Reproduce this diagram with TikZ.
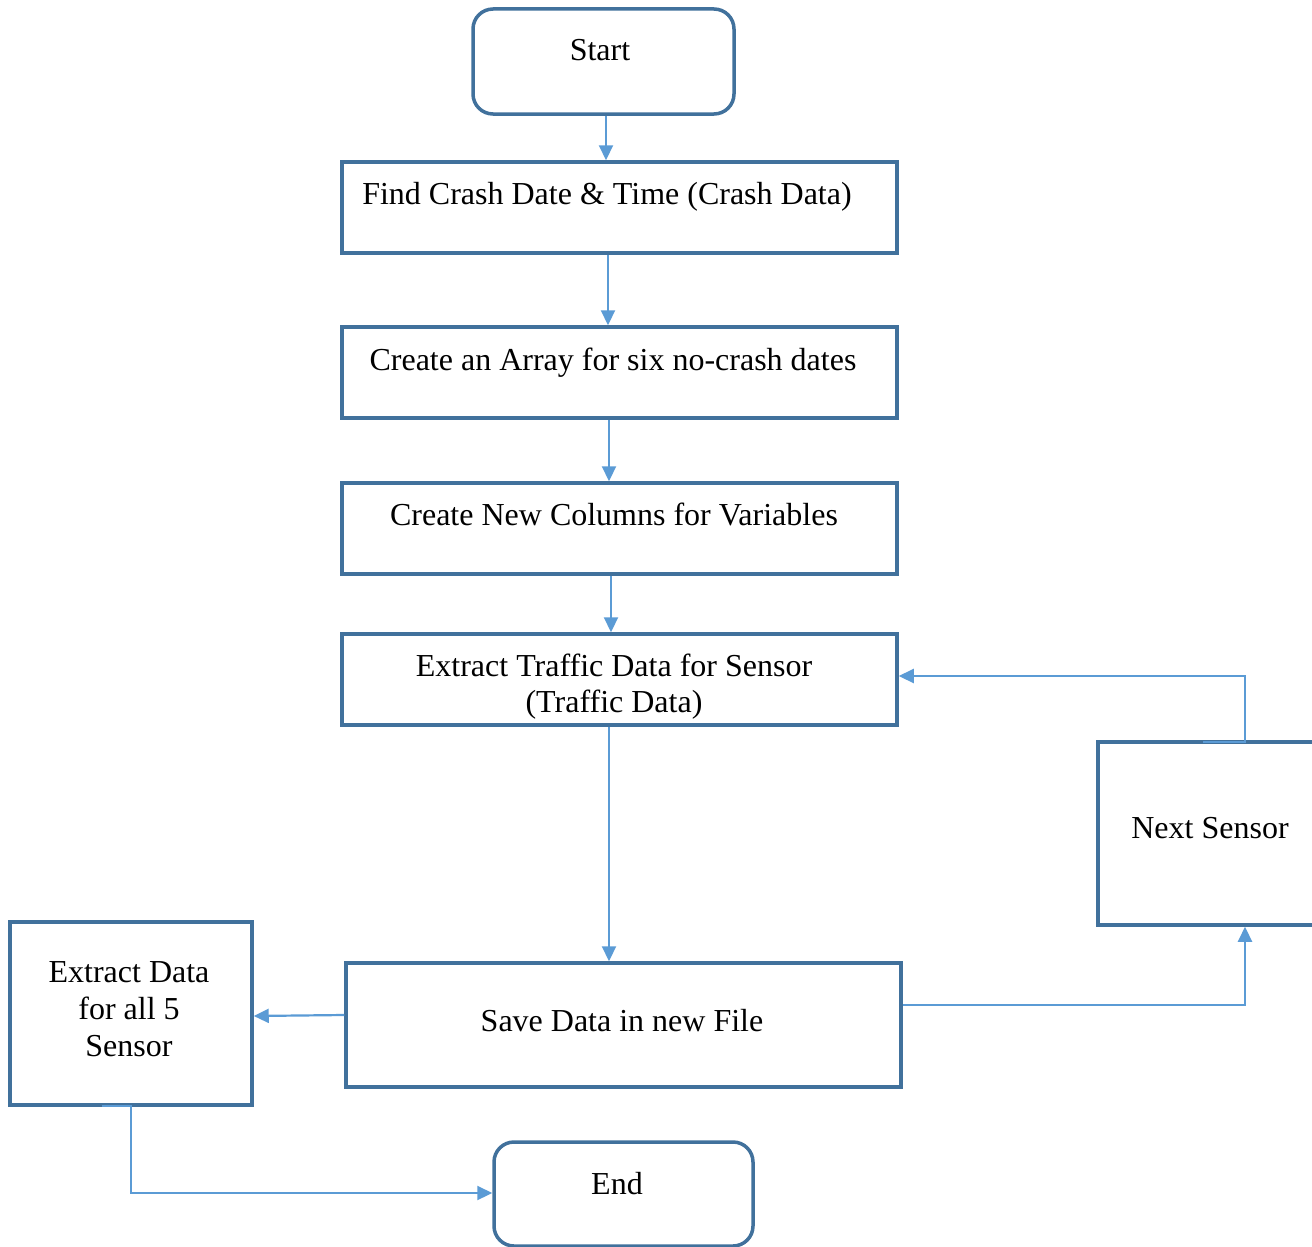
\documentclass[tikz,border=0pt]{standalone}
\usepackage{fontspec}
\setmainfont{Liberation Serif}
\usetikzlibrary{arrows.meta}
\definecolor{boxline}{HTML}{41719C}
\definecolor{flowline}{HTML}{5B9BD5}
\begin{document}
\begin{tikzpicture}[x=1pt,y=-1pt,
  stepbox/.style={draw=boxline,line width=3.5pt,fill=white,inner sep=0pt,minimum width=#1},
  termbox/.style={stepbox=#1,rounded corners=20pt},
  lbl/.style={anchor=base,font=\fontsize{32}{37}\selectfont,inner sep=0pt},
  flow/.style={draw=flowline,line width=2.2pt,-{Triangle[length=15pt,width=14pt]}},
  plain/.style={draw=flowline,line width=2.2pt}]
\useasboundingbox (0,0) rectangle (1312,1247);

% process boxes
\node[termbox=261pt,minimum height=105pt] (start) at (603.5,61.5) {};
\node[stepbox=555pt,minimum height=91pt] (find) at (619.5,207.5) {};
\node[stepbox=555pt,minimum height=91pt] (array) at (619.5,372.5) {};
\node[stepbox=555pt,minimum height=91pt] (cols) at (619.5,528.5) {};
\node[stepbox=555pt,minimum height=91pt] (extract) at (619.5,679.5) {};
\node[stepbox=555pt,minimum height=124pt] (save) at (623.5,1025) {};
\node[stepbox=242pt,minimum height=183pt] (all) at (131,1013.5) {};
\node[stepbox=240pt,minimum height=183pt] (next) at (1218,833.5) {};
\node[termbox=259pt,minimum height=104pt] (end) at (623.5,1194) {};

% labels
\node[lbl] (tstart) at (600,60) {Start};
\node[lbl] (tfind) at (607,204) {Find Crash Date \& Time (Crash Data)};
\node[lbl] (tarray) at (613,370) {Create an Array for six no-crash dates};
\node[lbl] (tcols) at (614,525) {Create New Columns for Variables};
\node[lbl] (textr1) at (614,676) {Extract Traffic Data for Sensor};
\node[lbl] (textr2) at (614,712) {(Traffic Data)};
\node[lbl] (tsave) at (622,1031) {Save Data in new File};
\node[lbl] (tall1) at (129,982) {Extract Data};
\node[lbl] (tall2) at (129,1019) {for all 5};
\node[lbl] (tall3) at (129,1056) {Sensor};
\node[lbl] (tnext) at (1210,838) {Next Sensor};
\node[lbl] (tend) at (617,1194) {End};

% connectors
\draw[flow] (start.south -| 606,0) -- (find.north -| 606,0);
\draw[flow] (find.south -| 608,0) -- (array.north -| 608,0);
\draw[flow] (array.south -| 609,0) -- (cols.north -| 609,0);
\draw[flow] (cols.south -| 611,0) -- (extract.north -| 611,0);
\draw[flow] (extract.south -| 609,0) -- (save.north -| 609,0);
\draw[flow] (save.west |- 0,1015) -- (all.east |- 0,1016);
\draw[flow] (save.east |- 0,1005) -| (next.south -| 1245,0);
\coordinate (nstub) at (1203,742);
\draw[flow] (nstub) -- (1245,742) |- (extract.east |- 0,676);
\coordinate (astub) at (102,1106);
\draw[flow] (astub) -- (131,1106) |- (end.west |- 0,1193);
\end{tikzpicture}
\end{document}
